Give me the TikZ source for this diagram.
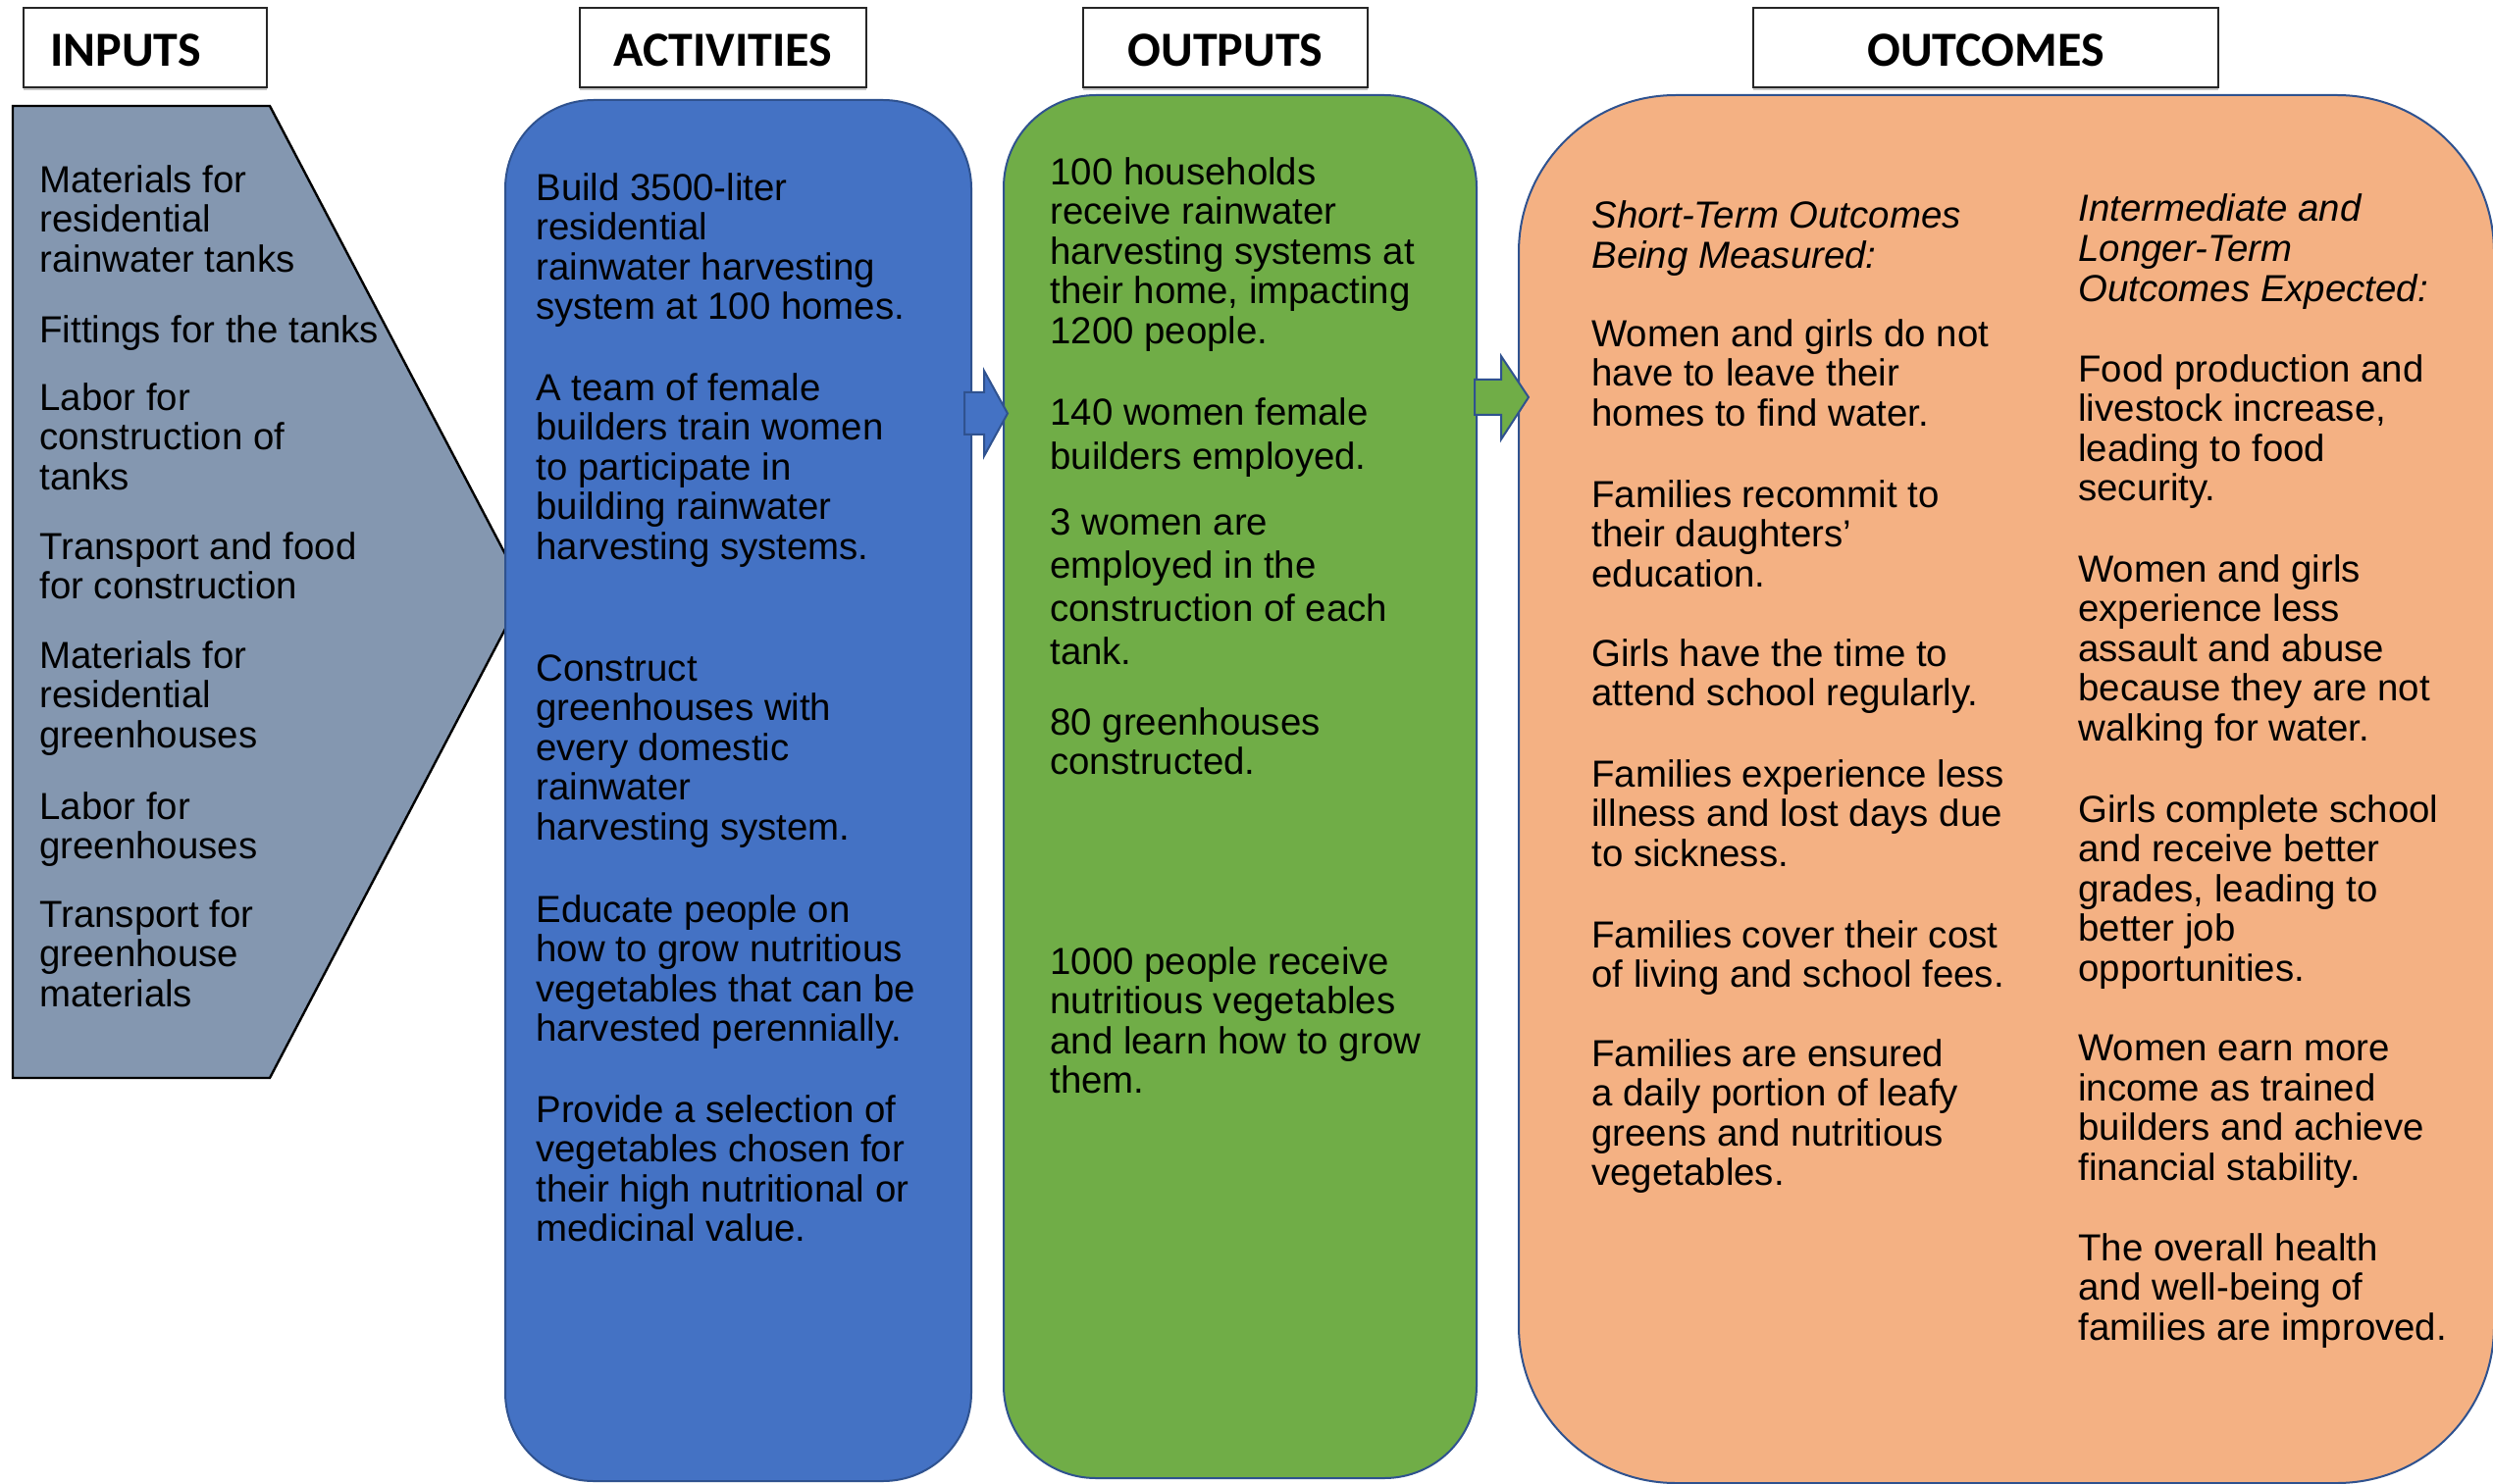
\documentclass[tikz,border=0pt]{standalone}
\usepackage{fontspec}
\setmainfont{Liberation Sans}
\newfontfamily\hdrfont{Carlito}
\usetikzlibrary{shadows}
\definecolor{inpgray}{HTML}{8497B0}
\definecolor{actblue}{HTML}{4472C4}
\definecolor{outgreen}{HTML}{70AD47}
\definecolor{outcorange}{HTML}{F4B183}
\definecolor{edgeblue}{HTML}{2F528F}
\begin{document}
\begin{tikzpicture}[x=0.5pt,y=-0.5pt,
  hdr/.style={draw=black!85, line width=1pt, fill=white, minimum height=40.5pt, inner sep=0pt,
    text height=19pt, text depth=0pt,
    drop shadow={shadow xshift=0pt, shadow yshift=-1.5pt, opacity=0.45},
    font=\hdrfont\bfseries\fontsize{25}{30}\selectfont},
  bigbox/.style={draw=edgeblue, line width=1pt, inner sep=0pt},
  txt/.style={anchor=north west, inner sep=0pt, align=left, yshift=-1.5pt,
    font=\fontsize{19.2}{20.25}\selectfont, execute at begin node={\rule{0pt}{15pt}}},
  itxt/.style={txt, font=\itshape\fontsize{19.2}{20.5}\selectfont},
  blockarrow/.style={draw=edgeblue, line width=1pt, line join=miter}
]
\fill[white] (0,0) rectangle (2541,1513);
\useasboundingbox (0,0) rectangle (2541,1513);

% header boxes
\node[hdr, minimum width=124pt] (hin) at (148,48.5) {\hspace*{-20pt}INPUTS};
\node[hdr, minimum width=146pt] (hact) at (737,48.5) {ACTIVITIES};
\node[hdr, minimum width=145pt] (hout) at (1249,48.5) {OUTPUTS};
\node[hdr, minimum width=237pt] (houtc) at (2024,48.5) {OUTCOMES};

% inputs pentagon
\draw[fill=inpgray, draw=black, line width=1.2pt, line join=miter]
  (13,108) -- (275,108) -- (535,603) -- (275,1099) -- (13,1099) -- cycle;

% main boxes
\node[bigbox, fill=actblue, rounded corners=45pt, minimum width=237.5pt, minimum height=704pt] (act) at (752.5,806) {};
\node[bigbox, fill=outgreen, rounded corners=47pt, minimum width=241pt, minimum height=705pt] (outp) at (1264,802) {};
\node[bigbox, fill=outcorange, rounded corners=80pt, minimum width=497pt, minimum height=707.5pt] (outc) at (2045,804.5) {};

% block arrows
\draw[blockarrow, fill=actblue] (983,400) -- (1003,400) -- (1003,378) -- (1027,421.5) -- (1003,465) -- (1003,443) -- (983,443) -- cycle;
\draw[blockarrow, fill=outgreen] (1503,387) -- (1530,387) -- (1530,363) -- (1558,405) -- (1530,448) -- (1530,423) -- (1503,423) -- cycle;

% inputs text
\node[txt] (i1) at (40,165) {Materials for\\residential\\rainwater tanks};
\node[txt] (i2) at (40,316) {Fittings for the tanks};
\node[txt] (i3) at (40,387) {Labor for\\construction of\\tanks};
\node[txt] (i4) at (40,539) {Transport and food\\for construction};
\node[txt] (i5) at (40,650) {Materials for\\residential\\greenhouses};
\node[txt] (i6) at (40,804) {Labor for\\greenhouses};
\node[txt] (i7) at (40,914) {Transport for\\greenhouse\\materials};

% activities text
\node[txt] (a1) at (546,173) {Build 3500-liter\\residential\\rainwater harvesting\\system at 100 homes.};
\node[txt] (a2) at (546,377) {A team of female\\builders train women\\to participate in\\building rainwater\\harvesting systems.};
\node[txt] (a3) at (546,664) {Construct\\greenhouses with\\every domestic\\rainwater\\harvesting system.};
\node[txt] (a4) at (546,909) {Educate people on\\how to grow nutritious\\vegetables that can be\\harvested perennially.};
\node[txt] (a5) at (546,1113) {Provide a selection of\\vegetables chosen for\\their high nutritional or\\medicinal value.};

% outputs text
\node[txt] (o1) at (1070,157) {100 households\\receive rainwater\\harvesting systems at\\their home, impacting\\1200 people.};
\node[txt, font=\fontsize{19.2}{22.5}\selectfont] (o2) at (1070,402) {140 women female\\builders employed.};
\node[txt, font=\fontsize{19.2}{22}\selectfont] (o3) at (1070,515) {3 women are\\employed in the\\construction of each\\tank.};
\node[txt] (o4) at (1070,718) {80 greenhouses\\constructed.};
\node[txt] (o5) at (1070,962) {1000 people receive\\nutritious vegetables\\and learn how to grow\\them.};

% outcomes, short term
\node[itxt] (s0) at (1622,201) {Short-Term Outcomes\\Being Measured:};
\node[txt] (s1) at (1622,322) {Women and girls do not\\have to leave their\\homes to find water.};
\node[txt] (s2) at (1622,486) {Families recommit to\\their daughters’\\education.};
\node[txt] (s3) at (1622,648) {Girls have the time to\\attend school regularly.};
\node[txt] (s4) at (1622,771) {Families experience less\\illness and lost days due\\to sickness.};
\node[txt] (s5) at (1622,935) {Families cover their cost\\of living and school fees.};
\node[txt] (s6) at (1622,1056) {Families are ensured\\a daily portion of leafy\\greens and nutritious\\vegetables.};

% outcomes, longer term
\node[itxt] (l0) at (2118,194) {Intermediate and\\Longer-Term\\Outcomes Expected:};
\node[txt] (l1) at (2118,358) {Food production and\\livestock increase,\\leading to food\\security.};
\node[txt] (l2) at (2118,562) {Women and girls\\experience less\\assault and abuse\\because they are not\\walking for water.};
\node[txt] (l3) at (2118,807) {Girls complete school\\and receive better\\grades, leading to\\better job\\opportunities.};
\node[txt] (l4) at (2118,1052) {Women earn more\\income as trained\\builders and achieve\\financial stability.};
\node[txt] (l5) at (2118,1254) {The overall health\\and well-being of\\families are improved.};
\end{tikzpicture}
\end{document}
